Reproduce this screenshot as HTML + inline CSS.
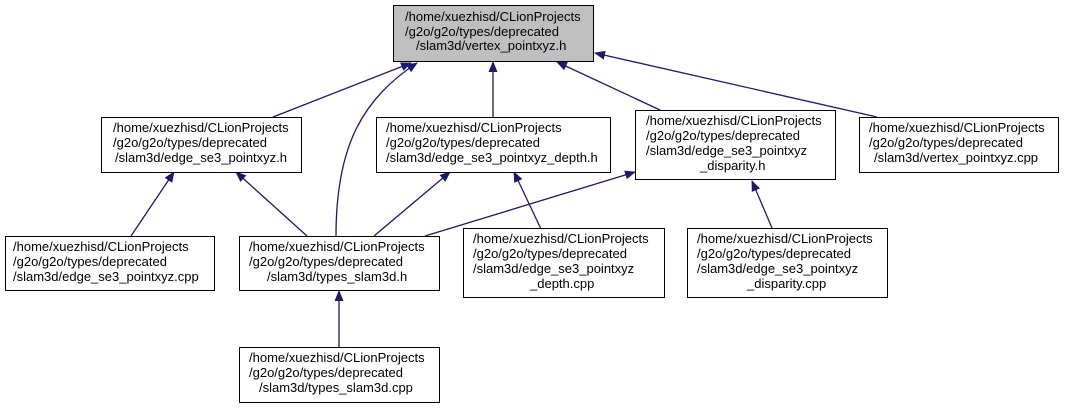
<!DOCTYPE html>
<html><head><meta charset="utf-8"><style>
html,body{margin:0;padding:0;background:#fff}
svg{display:block}
text{font-family:"Liberation Sans",Helvetica,Arial,sans-serif;font-size:13px;fill:#000}
rect{stroke:#000;stroke-width:1}
</style></head><body>
<svg width="1065" height="408" viewBox="0 0 1065 408" xmlns="http://www.w3.org/2000/svg">
<defs>
<marker id="a" markerWidth="11" markerHeight="9" refX="10" refY="4.5" orient="auto" markerUnits="userSpaceOnUse">
<path d="M0,0 L11,4.5 L0,9 z" fill="#191970"/>
</marker>
</defs>
<g stroke="#191970" stroke-width="1.3" fill="none" marker-end="url(#a)">
<line x1="273" y1="117" x2="411" y2="63"/>
<path d="M336,236 C336,150 360,100 417,63"/>
<line x1="493" y1="117" x2="493" y2="62"/>
<line x1="660" y1="110" x2="557" y2="62"/>
<line x1="877" y1="117" x2="595" y2="53"/>
<line x1="131" y1="236" x2="174" y2="172"/>
<line x1="307" y1="236" x2="236" y2="172"/>
<line x1="374" y1="236" x2="450" y2="172"/>
<line x1="541" y1="229" x2="514" y2="172"/>
<line x1="425" y1="236" x2="635" y2="172"/>
<line x1="772" y1="228" x2="752" y2="181"/>
<line x1="339" y1="347" x2="339" y2="291"/>
</g>
<rect x="393.5" y="5.5" width="200" height="56" fill="#bfbfbf"/>
<text x="405" y="21">/home/xuezhisd/CLionProjects</text>
<text x="405" y="36">/g2o/g2o/types/deprecated</text>
<text x="416" y="50">/slam3d/vertex_pointxyz.h</text>

<rect x="101.5" y="117.5" width="200" height="55" fill="#fff"/>
<text x="113" y="132">/home/xuezhisd/CLionProjects</text>
<text x="113" y="147">/g2o/g2o/types/deprecated</text>
<text x="115" y="162">/slam3d/edge_se3_pointxyz.h</text>

<rect x="376.5" y="117.5" width="234" height="55" fill="#fff"/>
<text x="386" y="132">/home/xuezhisd/CLionProjects</text>
<text x="386" y="147">/g2o/g2o/types/deprecated</text>
<text x="386" y="162">/slam3d/edge_se3_pointxyz_depth.h</text>

<rect x="635.5" y="110.5" width="200" height="69" fill="#fff"/>
<text x="646" y="125">/home/xuezhisd/CLionProjects</text>
<text x="646" y="140">/g2o/g2o/types/deprecated</text>
<text x="646" y="155">/slam3d/edge_se3_pointxyz</text>
<text x="700" y="170">_disparity.h</text>

<rect x="859.5" y="117.5" width="199" height="55" fill="#fff"/>
<text x="869" y="132">/home/xuezhisd/CLionProjects</text>
<text x="869" y="147">/g2o/g2o/types/deprecated</text>
<text x="874" y="162">/slam3d/vertex_pointxyz.cpp</text>

<rect x="5.5" y="236.5" width="209" height="54" fill="#fff"/>
<text x="13" y="251">/home/xuezhisd/CLionProjects</text>
<text x="13" y="266">/g2o/g2o/types/deprecated</text>
<text x="13" y="281">/slam3d/edge_se3_pointxyz.cpp</text>

<rect x="239.5" y="236.5" width="200" height="54" fill="#fff"/>
<text x="249" y="251">/home/xuezhisd/CLionProjects</text>
<text x="249" y="266">/g2o/g2o/types/deprecated</text>
<text x="267" y="281">/slam3d/types_slam3d.h</text>

<rect x="463.5" y="228.5" width="201" height="69" fill="#fff"/>
<text x="473" y="243">/home/xuezhisd/CLionProjects</text>
<text x="473" y="258">/g2o/g2o/types/deprecated</text>
<text x="473" y="273">/slam3d/edge_se3_pointxyz</text>
<text x="530" y="288">_depth.cpp</text>

<rect x="687.5" y="228.5" width="200" height="69" fill="#fff"/>
<text x="697" y="243">/home/xuezhisd/CLionProjects</text>
<text x="697" y="258">/g2o/g2o/types/deprecated</text>
<text x="697" y="273">/slam3d/edge_se3_pointxyz</text>
<text x="747" y="288">_disparity.cpp</text>

<rect x="239.5" y="347.5" width="200" height="55" fill="#fff"/>
<text x="249" y="362">/home/xuezhisd/CLionProjects</text>
<text x="249" y="377">/g2o/g2o/types/deprecated</text>
<text x="259" y="392">/slam3d/types_slam3d.cpp</text>
</svg>
</body></html>
